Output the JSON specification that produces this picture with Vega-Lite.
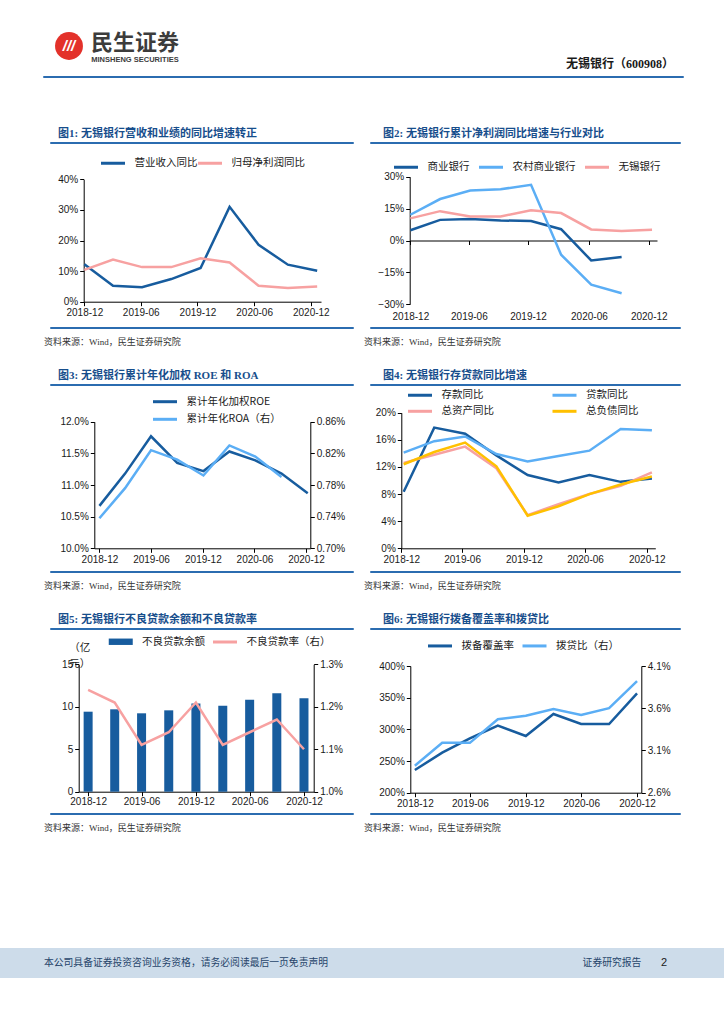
{
"$schema": "https://vega.github.io/schema/vega-lite/v6.json",
"background": "white",
"padding": 0,
"spacing": 0,
"resolve": {"scale": {"color": "independent", "fill": "independent", "stroke": "independent"}},
"config": {
  "view": {"stroke": null},
  "font": "Liberation Sans, Noto Sans CJK SC",
  "axis": {"grid": false, "domainColor": "#000000", "domainWidth": 1, "tickColor": "#000000", "tickSize": 4, "tickWidth": 1, "labelFont": "Liberation Sans, Noto Sans CJK SC", "labelFontSize": 10, "labelColor": "#1a1a1a", "labelPadding": 2, "labelFlush": false},
  "legend": {"orient": "none", "padding": 0, "labelFont": "Noto Sans CJK SC", "labelFontSize": 10.5, "labelColor": "#1a1a1a", "symbolType": "M-3,0H3", "symbolSize": 64, "symbolStrokeWidth": 3, "symbolOffset": 6.5, "labelOffset": 16, "direction": "horizontal"},
  "title": {"font": "Liberation Serif, Noto Sans CJK SC", "fontSize": 11, "fontWeight": "bold", "color": "#174e8c", "anchor": "start", "frame": "group"}
},
"vconcat": [
  {"width": 1, "height": 30, "data": {"values": []}, "mark": "point"},
  {"hconcat": [
    {"width": 53, "height": 1, "data": {"values": []}, "mark": "point"},
    {"width": 32, "height": 32, "data": {"values": [{"t": "///"}]}, "layer": [
      {"mark": {"type": "point", "filled": true, "size": 780, "color": "#e3312a", "opacity": 1}, "encoding": {}},
      {"mark": {"type": "text", "color": "#ffffff", "font": "Liberation Sans", "fontSize": 15, "fontWeight": "bold", "fontStyle": "italic"}, "encoding": {"text": {"field": "t"}}}
    ]},
    {"width": 5, "height": 1, "data": {"values": []}, "mark": "point"},
    {"vconcat": [
      {"width": 90, "height": 25, "data": {"values": [{"t": "民生证券"}]}, "mark": {"type": "text", "font": "Noto Sans CJK SC", "fontSize": 22, "fontWeight": "bold", "color": "#3c3c3c"}, "encoding": {"text": {"field": "t"}}},
      {"width": 90, "height": 9, "data": {"values": [{"t": "MINSHENG SECURITIES"}]}, "mark": {"type": "text", "font": "Liberation Sans", "fontSize": 7.5, "fontWeight": "bold", "color": "#3c3c3c"}, "encoding": {"text": {"field": "t"}}}
    ], "spacing": 0},
    {"width": 385, "height": 1, "data": {"values": []}, "mark": "point"},
    {"vconcat": [
      {"width": 108, "height": 26, "data": {"values": []}, "mark": "point"},
      {"width": 108, "height": 16, "data": {"values": [{"t": "无锡银行（600908）"}]}, "mark": {"type": "text", "font": "Liberation Serif, Noto Sans CJK SC", "fontSize": 12, "fontWeight": "bold", "color": "#1a1a1a"}, "encoding": {"text": {"field": "t"}}}
    ], "spacing": 0}
  ], "spacing": 0},
  {"width": 1, "height": 3, "data": {"values": []}, "mark": "point"},
  {"hconcat": [
    {"width": 42, "height": 1, "data": {"values": []}, "mark": "point"},
    {"width": 640, "height": 1, "view": {"stroke": "#2b6cb0", "strokeWidth": 1}, "data": {"values": []}, "mark": "point"}
  ], "spacing": 0},
  {"width": 1, "height": 49, "data": {"values": []}, "mark": "point"},
  {"hconcat": [
    {"width": 43, "height": 1, "data": {"values": []}, "mark": "point"},
    {"vconcat": [
      {"width": 303, "height": 1, "view": {"stroke": "#2b6cb0", "strokeWidth": 1}, "title": {"text": "图1: 无锡银行营收和业绩的同比增速转正", "dx": 8, "offset": -8, "baseline": "bottom"}, "data": {"values": []}, "mark": "point"},
      {"width": 303, "height": 182,
       "data": {"values": [
         {"d": "2018-12-31", "s": "营业收入同比", "v": 0.122},
         {"d": "2019-03-31", "s": "营业收入同比", "v": 0.052},
         {"d": "2019-06-30", "s": "营业收入同比", "v": 0.047},
         {"d": "2019-09-30", "s": "营业收入同比", "v": 0.074},
         {"d": "2019-12-31", "s": "营业收入同比", "v": 0.110},
         {"d": "2020-03-31", "s": "营业收入同比", "v": 0.310},
         {"d": "2020-06-30", "s": "营业收入同比", "v": 0.186},
         {"d": "2020-09-30", "s": "营业收入同比", "v": 0.121},
         {"d": "2020-12-31", "s": "营业收入同比", "v": 0.101},
         {"d": "2018-12-31", "s": "归母净利润同比", "v": 0.104},
         {"d": "2019-03-31", "s": "归母净利润同比", "v": 0.138},
         {"d": "2019-06-30", "s": "归母净利润同比", "v": 0.113},
         {"d": "2019-09-30", "s": "归母净利润同比", "v": 0.113},
         {"d": "2019-12-31", "s": "归母净利润同比", "v": 0.142},
         {"d": "2020-03-31", "s": "归母净利润同比", "v": 0.128},
         {"d": "2020-06-30", "s": "归母净利润同比", "v": 0.052},
         {"d": "2020-09-30", "s": "归母净利润同比", "v": 0.045},
         {"d": "2020-12-31", "s": "归母净利润同比", "v": 0.050}
       ]},
       "mark": {"type": "line", "strokeWidth": 2.5},
       "encoding": {
         "x": {"field": "d", "type": "temporal",
               "scale": {"domain": [{"year": 2018, "month": 12, "date": 29}, {"year": 2021, "month": 1, "date": 12}], "range": [33.7, 271]},
               "axis": {"title": null, "format": "%Y-%m", "offset": -24.3, "values": [{"year": 2018, "month": 12, "date": 31}, {"year": 2019, "month": 6, "date": 26}, {"year": 2019, "month": 12, "date": 21}, {"year": 2020, "month": 6, "date": 16}, {"year": 2020, "month": 12, "date": 11}]}},
         "y": {"field": "v", "type": "quantitative",
               "scale": {"domain": [0, 0.4], "range": [157.7, 35.3], "nice": false},
               "axis": {"title": null, "format": ".0%", "values": [0, 0.1, 0.2, 0.3, 0.4], "offset": -33.7}},
         "color": {"field": "s", "type": "nominal",
                   "scale": {"domain": ["营业收入同比", "归母净利润同比"], "range": ["#175c9e", "#f7a1a1"]},
                   "legend": {"title": null, "legendX": 51, "legendY": 13.5, "columnPadding": -8}}
       }},
      {"width": 303, "height": 1, "view": {"stroke": "#2b6cb0", "strokeWidth": 1}, "title": {"text": "资料来源：Wind，民生证券研究院", "orient": "bottom", "dx": -6, "offset": 10, "baseline": "top", "fontSize": 9, "fontWeight": "normal", "color": "#333333"}, "data": {"values": []}, "mark": "point"}
    ], "spacing": 0, "resolve": {"scale": {"color": "independent", "fill": "independent", "stroke": "independent"}}},
    {"width": 9, "height": 1, "data": {"values": []}, "mark": "point"},
    {"vconcat": [
      {"width": 310, "height": 1, "view": {"stroke": "#2b6cb0", "strokeWidth": 1}, "title": {"text": "图2: 无锡银行累计净利润同比增速与行业对比", "dx": 13, "offset": -8, "baseline": "bottom"}, "data": {"values": []}, "mark": "point"},
      {"width": 310, "height": 182,
       "data": {"values": [
         {"d": "2018-12-31", "s": "商业银行", "v": 0.048},
         {"d": "2019-03-31", "s": "商业银行", "v": 0.097},
         {"d": "2019-06-30", "s": "商业银行", "v": 0.101},
         {"d": "2019-09-30", "s": "商业银行", "v": 0.094},
         {"d": "2019-12-31", "s": "商业银行", "v": 0.092},
         {"d": "2020-03-31", "s": "商业银行", "v": 0.053},
         {"d": "2020-06-30", "s": "商业银行", "v": -0.094},
         {"d": "2020-09-30", "s": "商业银行", "v": -0.078},
         {"d": "2018-12-31", "s": "农村商业银行", "v": 0.121},
         {"d": "2019-03-31", "s": "农村商业银行", "v": 0.195},
         {"d": "2019-06-30", "s": "农村商业银行", "v": 0.235},
         {"d": "2019-09-30", "s": "农村商业银行", "v": 0.241},
         {"d": "2019-12-31", "s": "农村商业银行", "v": 0.262},
         {"d": "2020-03-31", "s": "农村商业银行", "v": -0.067},
         {"d": "2020-06-30", "s": "农村商业银行", "v": -0.208},
         {"d": "2020-09-30", "s": "农村商业银行", "v": -0.248},
         {"d": "2018-12-31", "s": "无锡银行", "v": 0.104},
         {"d": "2019-03-31", "s": "无锡银行", "v": 0.138},
         {"d": "2019-06-30", "s": "无锡银行", "v": 0.113},
         {"d": "2019-09-30", "s": "无锡银行", "v": 0.113},
         {"d": "2019-12-31", "s": "无锡银行", "v": 0.142},
         {"d": "2020-03-31", "s": "无锡银行", "v": 0.129},
         {"d": "2020-06-30", "s": "无锡银行", "v": 0.052},
         {"d": "2020-09-30", "s": "无锡银行", "v": 0.045},
         {"d": "2020-12-31", "s": "无锡银行", "v": 0.050}
       ]},
       "mark": {"type": "line", "strokeWidth": 2.5},
       "encoding": {
         "x": {"field": "d", "type": "temporal",
               "scale": {"domain": [{"year": 2018, "month": 12, "date": 29}, {"year": 2021, "month": 1, "date": 15}], "range": [39.7, 287]},
               "axis": {"title": null, "format": "%Y-%m", "offset": -85.5, "labelPadding": 66.7, "values": [{"year": 2018, "month": 12, "date": 31}, {"year": 2019, "month": 6, "date": 26}, {"year": 2019, "month": 12, "date": 22}, {"year": 2020, "month": 6, "date": 23}, {"year": 2020, "month": 12, "date": 21}]}},
         "y": {"field": "v", "type": "quantitative",
               "scale": {"domain": [-0.3, 0.3], "range": [160.3, 32.7], "nice": false},
               "axis": {"title": null, "format": ".0%", "values": [-0.3, -0.15, 0, 0.15, 0.3], "offset": -39.7}},
         "color": {"field": "s", "type": "nominal",
                   "scale": {"domain": ["商业银行", "农村商业银行", "无锡银行"], "range": ["#175c9e", "#5baef5", "#f7a1a1"]},
                   "legend": {"title": null, "legendX": 24, "legendY": 17.5, "columnPadding": 3}}
       }},
      {"width": 310, "height": 1, "view": {"stroke": "#2b6cb0", "strokeWidth": 1}, "title": {"text": "资料来源：Wind，民生证券研究院", "orient": "bottom", "dx": -6, "offset": 10, "baseline": "top", "fontSize": 9, "fontWeight": "normal", "color": "#333333"}, "data": {"values": []}, "mark": "point"}
    ], "spacing": 0, "resolve": {"scale": {"color": "independent", "fill": "independent", "stroke": "independent"}}}
  ], "spacing": 0, "resolve": {"scale": {"color": "independent", "fill": "independent", "stroke": "independent"}}},
  {"width": 1, "height": 21, "data": {"values": []}, "mark": "point"},
  {"hconcat": [
    {"width": 43, "height": 1, "data": {"values": []}, "mark": "point"},
    {"vconcat": [
      {"width": 303, "height": 1, "view": {"stroke": "#2b6cb0", "strokeWidth": 1}, "title": {"text": "图3: 无锡银行累计年化加权 ROE 和 ROA", "dx": 8, "offset": -8, "baseline": "bottom"}, "data": {"values": []}, "mark": "point"},
      {"width": 303, "height": 184,
       "data": {"values": [
         {"d": "2018-12-31", "roe": 0.1067, "roa": 0.00738},
         {"d": "2019-03-31", "roe": 0.1118, "roa": 0.00776},
         {"d": "2019-06-30", "roe": 0.1177, "roa": 0.00824},
         {"d": "2019-09-30", "roe": 0.1135, "roa": 0.00812},
         {"d": "2019-12-31", "roe": 0.1122, "roa": 0.00792},
         {"d": "2020-03-31", "roe": 0.1153, "roa": 0.00830},
         {"d": "2020-06-30", "roe": 0.1139, "roa": 0.00816},
         {"d": "2020-09-30", "roe": 0.1118, "roa": 0.00790},
         {"d": "2020-12-31", "roe": 0.1087, "roa": null}
       ]},
       "encoding": {
         "x": {"field": "d", "type": "temporal",
               "scale": {"domain": [{"year": 2018, "month": 12, "date": 13}, {"year": 2021, "month": 1, "date": 9}], "range": [44.3, 260.3]},
               "axis": {"title": null, "format": "%Y-%m", "offset": -21.7, "values": [{"year": 2018, "month": 12, "date": 31}, {"year": 2019, "month": 6, "date": 30}, {"year": 2019, "month": 12, "date": 29}, {"year": 2020, "month": 6, "date": 27}, {"year": 2020, "month": 12, "date": 25}]}}
       },
       "layer": [
         {"mark": {"type": "line", "strokeWidth": 2.5},
          "encoding": {
            "y": {"field": "roe", "type": "quantitative",
                  "scale": {"domain": [0.10, 0.12], "range": [162.3, 35.7], "nice": false, "zero": false},
                  "axis": {"title": null, "format": ".1%", "values": [0.10, 0.105, 0.11, 0.115, 0.12], "offset": -44.3}},
            "color": {"datum": "累计年化加权ROE",
                      "scale": {"domain": ["累计年化加权ROE", "累计年化ROA（右）"], "range": ["#175c9e", "#5baef5"]},
                      "legend": {"title": null, "direction": "vertical", "legendX": 103, "legendY": 10.2, "rowPadding": 4.6}}
          }},
         {"mark": {"type": "line", "strokeWidth": 2.5},
          "encoding": {
            "y": {"field": "roa", "type": "quantitative",
                  "scale": {"domain": [0.007, 0.0086], "range": [162.3, 35.7], "nice": false, "zero": false},
                  "axis": {"title": null, "orient": "right", "format": ".2%", "values": [0.007, 0.0074, 0.0078, 0.0082, 0.0086], "offset": -42.7}},
            "color": {"datum": "累计年化ROA（右）",
                      "scale": {"domain": ["累计年化加权ROE", "累计年化ROA（右）"], "range": ["#175c9e", "#5baef5"]},
                      "legend": {"title": null, "direction": "vertical", "legendX": 103, "legendY": 10.2, "rowPadding": 4.6}}
          }}
       ],
       "resolve": {"scale": {"y": "independent"}}},
      {"width": 303, "height": 1, "view": {"stroke": "#2b6cb0", "strokeWidth": 1}, "title": {"text": "资料来源：Wind，民生证券研究院", "orient": "bottom", "dx": -6, "offset": 10, "baseline": "top", "fontSize": 9, "fontWeight": "normal", "color": "#333333"}, "data": {"values": []}, "mark": "point"}
    ], "spacing": 0, "resolve": {"scale": {"color": "independent", "fill": "independent", "stroke": "independent"}}},
    {"width": 9, "height": 1, "data": {"values": []}, "mark": "point"},
    {"vconcat": [
      {"width": 310, "height": 1, "view": {"stroke": "#2b6cb0", "strokeWidth": 1}, "title": {"text": "图4: 无锡银行存贷款同比增速", "dx": 13, "offset": -8, "baseline": "bottom"}, "data": {"values": []}, "mark": "point"},
      {"width": 310, "height": 184,
       "data": {"values": [
         {"d": "2018-12-31", "s": "存款同比", "v": 0.0835},
         {"d": "2019-03-31", "s": "存款同比", "v": 0.178},
         {"d": "2019-06-30", "s": "存款同比", "v": 0.169},
         {"d": "2019-09-30", "s": "存款同比", "v": 0.137},
         {"d": "2019-12-31", "s": "存款同比", "v": 0.108},
         {"d": "2020-03-31", "s": "存款同比", "v": 0.097},
         {"d": "2020-06-30", "s": "存款同比", "v": 0.108},
         {"d": "2020-09-30", "s": "存款同比", "v": 0.098},
         {"d": "2020-12-31", "s": "存款同比", "v": 0.103},
         {"d": "2018-12-31", "s": "贷款同比", "v": 0.141},
         {"d": "2019-03-31", "s": "贷款同比", "v": 0.158},
         {"d": "2019-06-30", "s": "贷款同比", "v": 0.165},
         {"d": "2019-09-30", "s": "贷款同比", "v": 0.139},
         {"d": "2019-12-31", "s": "贷款同比", "v": 0.128},
         {"d": "2020-03-31", "s": "贷款同比", "v": 0.136},
         {"d": "2020-06-30", "s": "贷款同比", "v": 0.144},
         {"d": "2020-09-30", "s": "贷款同比", "v": 0.176},
         {"d": "2020-12-31", "s": "贷款同比", "v": 0.174},
         {"d": "2018-12-31", "s": "总资产同比", "v": 0.126},
         {"d": "2019-03-31", "s": "总资产同比", "v": 0.138},
         {"d": "2019-06-30", "s": "总资产同比", "v": 0.150},
         {"d": "2019-09-30", "s": "总资产同比", "v": 0.118},
         {"d": "2019-12-31", "s": "总资产同比", "v": 0.049},
         {"d": "2020-03-31", "s": "总资产同比", "v": 0.065},
         {"d": "2020-06-30", "s": "总资产同比", "v": 0.080},
         {"d": "2020-09-30", "s": "总资产同比", "v": 0.092},
         {"d": "2020-12-31", "s": "总资产同比", "v": 0.112},
         {"d": "2018-12-31", "s": "总负债同比", "v": 0.124},
         {"d": "2019-03-31", "s": "总负债同比", "v": 0.142},
         {"d": "2019-06-30", "s": "总负债同比", "v": 0.156},
         {"d": "2019-09-30", "s": "总负债同比", "v": 0.121},
         {"d": "2019-12-31", "s": "总负债同比", "v": 0.048},
         {"d": "2020-03-31", "s": "总负债同比", "v": 0.062},
         {"d": "2020-06-30", "s": "总负债同比", "v": 0.080},
         {"d": "2020-09-30", "s": "总负债同比", "v": 0.094},
         {"d": "2020-12-31", "s": "总负债同比", "v": 0.106}
       ]},
       "mark": {"type": "line", "strokeWidth": 2.5},
       "encoding": {
         "x": {"field": "d", "type": "temporal",
               "scale": {"domain": [{"year": 2018, "month": 12, "date": 24}, {"year": 2021, "month": 1, "date": 10}], "range": [31.3, 285.3]},
               "axis": {"title": null, "format": "%Y-%m", "offset": -21.7, "values": [{"year": 2018, "month": 12, "date": 24}, {"year": 2019, "month": 6, "date": 21}, {"year": 2019, "month": 12, "date": 20}, {"year": 2020, "month": 6, "date": 17}, {"year": 2020, "month": 12, "date": 16}]}},
         "y": {"field": "v", "type": "quantitative",
               "scale": {"domain": [0, 0.2], "range": [162.3, 26.7], "nice": false},
               "axis": {"title": null, "format": ".0%", "values": [0, 0.04, 0.08, 0.12, 0.16, 0.2], "offset": -31.3}},
         "color": {"field": "s", "type": "nominal",
                   "scale": {"domain": ["存款同比", "贷款同比", "总资产同比", "总负债同比"], "range": ["#175c9e", "#5baef5", "#f7a1a1", "#ffc000"]},
                   "legend": {"title": null, "columns": 2, "legendX": 38, "legendY": 3.5, "columnPadding": 52.5, "rowPadding": 3.3}}
       }},
      {"width": 310, "height": 1, "view": {"stroke": "#2b6cb0", "strokeWidth": 1}, "title": {"text": "资料来源：Wind，民生证券研究院", "orient": "bottom", "dx": -6, "offset": 10, "baseline": "top", "fontSize": 9, "fontWeight": "normal", "color": "#333333"}, "data": {"values": []}, "mark": "point"}
    ], "spacing": 0, "resolve": {"scale": {"color": "independent", "fill": "independent", "stroke": "independent"}}}
  ], "spacing": 0, "resolve": {"scale": {"color": "independent", "fill": "independent", "stroke": "independent"}}},
  {"width": 1, "height": 21, "data": {"values": []}, "mark": "point"},
  {"hconcat": [
    {"width": 43, "height": 1, "data": {"values": []}, "mark": "point"},
    {"vconcat": [
      {"width": 303, "height": 1, "view": {"stroke": "#2b6cb0", "strokeWidth": 1}, "title": {"text": "图5: 无锡银行不良贷款余额和不良贷款率", "dx": 8, "offset": -8, "baseline": "bottom"}, "data": {"values": []}, "mark": "point"},
      {"width": 303, "height": 182,
       "data": {"values": [
         {"d": "2018-12-31", "npl": 9.42, "rate": 0.0124},
         {"d": "2019-03-31", "npl": 9.70, "rate": 0.0121},
         {"d": "2019-06-30", "npl": 9.23, "rate": 0.0111},
         {"d": "2019-09-30", "npl": 9.58, "rate": 0.0114},
         {"d": "2019-12-31", "npl": 10.37, "rate": 0.0121},
         {"d": "2020-03-31", "npl": 10.13, "rate": 0.0111},
         {"d": "2020-06-30", "npl": 10.84, "rate": 0.0114},
         {"d": "2020-09-30", "npl": 11.58, "rate": 0.0117},
         {"d": "2020-12-31", "npl": 10.99, "rate": 0.0110}
       ]},
       "encoding": {
         "x": {"field": "d", "type": "temporal",
               "scale": {"domain": [{"year": 2018, "month": 12, "date": 16}, {"year": 2021, "month": 1, "date": 16}], "range": [28.7, 263.7]},
               "axis": {"title": null, "format": "%Y-%m", "offset": -20.3, "labelPadding": 1, "values": [{"year": 2018, "month": 12, "date": 31}, {"year": 2019, "month": 6, "date": 30}, {"year": 2019, "month": 12, "date": 31}, {"year": 2020, "month": 6, "date": 30}, {"year": 2020, "month": 12, "date": 31}]}}
       },
       "layer": [
         {"mark": {"type": "bar", "size": 9},
          "encoding": {
            "y": {"field": "npl", "type": "quantitative",
                  "scale": {"domain": [0, 15], "range": [161.7, 34.3], "nice": false},
                  "axis": {"title": ["（亿", "元）"], "titleAngle": 0, "titleAlign": "left", "titleBaseline": "top", "titleX": -10, "titleY": 12.8, "titleFont": "Noto Sans CJK SC", "titleFontSize": 10.5, "titleFontWeight": "normal", "titleColor": "#1a1a1a", "titleLineHeight": 16, "format": "d", "values": [0, 5, 10, 15], "offset": -28.7}},
            "fill": {"datum": "不良贷款余额",
                     "scale": {"domain": ["不良贷款余额"], "range": ["#175c9e"]},
                     "legend": {"title": null, "legendX": 59, "legendY": 6.5, "symbolType": "M-3,-0.8H3V0.8H-3Z", "symbolStrokeWidth": 0}}
          }},
         {"mark": {"type": "line", "strokeWidth": 2.5},
          "encoding": {
            "y": {"field": "rate", "type": "quantitative",
                  "scale": {"domain": [0.010, 0.013], "range": [161.7, 34.3], "nice": false, "zero": false},
                  "axis": {"title": null, "orient": "right", "format": ".1%", "values": [0.010, 0.011, 0.012, 0.013], "offset": -39.3}},
            "stroke": {"datum": "不良贷款率（右）",
                       "scale": {"domain": ["不良贷款率（右）"], "range": ["#f7a1a1"]},
                       "legend": {"title": null, "legendX": 163, "legendY": 6.5}}
          }}
       ],
       "resolve": {"scale": {"y": "independent"}}},
      {"width": 303, "height": 1, "view": {"stroke": "#2b6cb0", "strokeWidth": 1}, "title": {"text": "资料来源：Wind，民生证券研究院", "orient": "bottom", "dx": -6, "offset": 10, "baseline": "top", "fontSize": 9, "fontWeight": "normal", "color": "#333333"}, "data": {"values": []}, "mark": "point"}
    ], "spacing": 0, "resolve": {"scale": {"color": "independent", "fill": "independent", "stroke": "independent"}}},
    {"width": 9, "height": 1, "data": {"values": []}, "mark": "point"},
    {"vconcat": [
      {"width": 310, "height": 1, "view": {"stroke": "#2b6cb0", "strokeWidth": 1}, "title": {"text": "图6: 无锡银行拨备覆盖率和拨贷比", "dx": 13, "offset": -8, "baseline": "bottom"}, "data": {"values": []}, "mark": "point"},
      {"width": 310, "height": 182,
       "data": {"values": [
         {"d": "2018-12-31", "cov": 2.358, "ldr": 0.0292},
         {"d": "2019-03-31", "cov": 2.632, "ldr": 0.0319},
         {"d": "2019-06-30", "cov": 2.858, "ldr": 0.0319},
         {"d": "2019-09-30", "cov": 3.058, "ldr": 0.0347},
         {"d": "2019-12-31", "cov": 2.895, "ldr": 0.0351},
         {"d": "2020-03-31", "cov": 3.242, "ldr": 0.0359},
         {"d": "2020-06-30", "cov": 3.084, "ldr": 0.0352},
         {"d": "2020-09-30", "cov": 3.084, "ldr": 0.0360},
         {"d": "2020-12-31", "cov": 3.568, "ldr": 0.0392}
       ]},
       "encoding": {
         "x": {"field": "d", "type": "temporal",
               "scale": {"domain": [{"year": 2018, "month": 12, "date": 16}, {"year": 2021, "month": 1, "date": 14}], "range": [40.3, 271.3]},
               "axis": {"title": null, "format": "%Y-%m", "offset": -19.3, "values": [{"year": 2018, "month": 12, "date": 31}, {"year": 2019, "month": 6, "date": 30}, {"year": 2019, "month": 12, "date": 31}, {"year": 2020, "month": 6, "date": 30}, {"year": 2020, "month": 12, "date": 31}]}}
       },
       "layer": [
         {"mark": {"type": "line", "strokeWidth": 2.5},
          "encoding": {
            "y": {"field": "cov", "type": "quantitative",
                  "scale": {"domain": [2, 4], "range": [162.7, 36], "nice": false, "zero": false},
                  "axis": {"title": null, "format": ".0%", "values": [2, 2.5, 3, 3.5, 4], "offset": -40.3}},
            "color": {"datum": "拨备覆盖率",
                      "scale": {"domain": ["拨备覆盖率", "拨贷比（右）"], "range": ["#175c9e", "#5baef5"]},
                      "legend": {"title": null, "legendX": 58, "legendY": 10.2, "columnPadding": 2.5}}
          }},
         {"mark": {"type": "line", "strokeWidth": 2.5},
          "encoding": {
            "y": {"field": "ldr", "type": "quantitative",
                  "scale": {"domain": [0.026, 0.041], "range": [162.7, 36], "nice": false, "zero": false},
                  "axis": {"title": null, "orient": "right", "format": ".1%", "values": [0.026, 0.031, 0.036, 0.041], "offset": -38.7}},
            "color": {"datum": "拨贷比（右）",
                      "scale": {"domain": ["拨备覆盖率", "拨贷比（右）"], "range": ["#175c9e", "#5baef5"]},
                      "legend": {"title": null, "legendX": 58, "legendY": 10.2, "columnPadding": 2.5}}
          }}
       ],
       "resolve": {"scale": {"y": "independent"}}},
      {"width": 310, "height": 1, "view": {"stroke": "#2b6cb0", "strokeWidth": 1}, "title": {"text": "资料来源：Wind，民生证券研究院", "orient": "bottom", "dx": -6, "offset": 10, "baseline": "top", "fontSize": 9, "fontWeight": "normal", "color": "#333333"}, "data": {"values": []}, "mark": "point"}
    ], "spacing": 0, "resolve": {"scale": {"color": "independent", "fill": "independent", "stroke": "independent"}}}
  ], "spacing": 0, "resolve": {"scale": {"color": "independent", "fill": "independent", "stroke": "independent"}}},
  {"width": 1, "height": 114, "data": {"values": []}, "mark": "point"},
  {"hconcat": [
    {"width": 40, "height": 30, "view": {"fill": "#cddcea", "stroke": null}, "data": {"values": []}, "mark": "point"},
    {"width": 292, "height": 30, "view": {"fill": "#cddcea", "stroke": null}, "data": {"values": [{"t": "本公司具备证券投资咨询业务资格，请务必阅读最后一页免责声明"}]}, "mark": {"type": "text", "font": "Noto Sans CJK SC", "fontSize": 9.8, "color": "#27456b"}, "encoding": {"text": {"field": "t"}}},
    {"width": 250, "height": 30, "view": {"fill": "#cddcea", "stroke": null}, "data": {"values": []}, "mark": "point"},
    {"width": 60, "height": 30, "view": {"fill": "#cddcea", "stroke": null}, "data": {"values": [{"t": "证券研究报告"}]}, "mark": {"type": "text", "font": "Noto Sans CJK SC", "fontSize": 9.8, "color": "#27456b"}, "encoding": {"text": {"field": "t"}}},
    {"width": 18, "height": 30, "view": {"fill": "#cddcea", "stroke": null}, "data": {"values": []}, "mark": "point"},
    {"width": 8, "height": 30, "view": {"fill": "#cddcea", "stroke": null}, "data": {"values": [{"t": "2"}]}, "mark": {"type": "text", "font": "Liberation Sans", "fontSize": 11, "color": "#1a1a1a"}, "encoding": {"text": {"field": "t"}}},
    {"width": 56, "height": 30, "view": {"fill": "#cddcea", "stroke": null}, "data": {"values": []}, "mark": "point"}
  ], "spacing": 0}
]
}
